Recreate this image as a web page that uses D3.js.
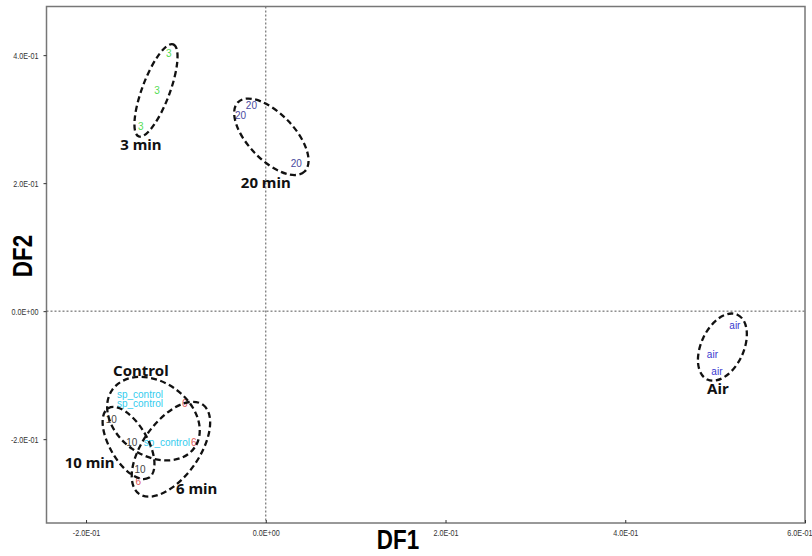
<!DOCTYPE html>
<html>
<head>
<meta charset="utf-8">
<script src="https://cdn.jsdelivr.net/npm/d3@7"></script>
<style>
	body { margin: 0; background: #fff; }
	svg { display: block; }
</style>
</head>
<body>
<script>
// groups of the DF1/DF2 scores, one label text each
const groups = ['3 min', '20 min', 'Air', 'Control', '10 min', '6 min'];
const pointText = ['3', '20', 'air', 'sp_control', '10', '6'];
const pointColor = ['#55dd55', '#4a4a9e', '#3838d0', '#33ccee', '#444444', '#e05555'];

// scores (3 per group)
const df1 = [
	[-0.108, -0.121, -0.139],
	[-0.016, -0.028, 0.034],
	[0.522, 0.497, 0.502],
	[-0.140, -0.140, -0.110],
	[-0.172, -0.149, -0.140],
	[-0.090, -0.080, -0.142]
];
const df2 = [
	[0.403, 0.345, 0.288],
	[0.322, 0.305, 0.231],
	[-0.023, -0.067, -0.095],
	[-0.131, -0.144, -0.205],
	[-0.169, -0.205, -0.248],
	[-0.145, -0.205, -0.266]
];

// where each group name sits (data units)
const nameX = [-0.139, 0.0, 0.503, -0.139, -0.196, -0.077];
const nameY = [0.261, 0.202, -0.120, -0.092, -0.236, -0.277];

const xTicks = [-0.2, 0.0, 0.2, 0.4, 0.6];
const yTicks = [-0.2, 0.0, 0.2, 0.4];

function init()
{
	const width = 812, height = 556;
	const left = 46.5, right = 805, top = 6.5, bottom = 523;
	const narrow = 0.8;

	var svg = d3.select('body').append('svg')
		.attr('width', width)
		.attr('height', height);

	var x = d3.scaleLinear().domain([-0.244, 0.6]).range([left, right]);
	var y = d3.scaleLinear().domain([-0.331, 0.476]).range([bottom, top]);

	function sci(v)
	{
		if (Math.abs(v) < 1e-12) return '0.0E+00';
		const e = Math.floor(Math.log10(Math.abs(v)) + 1e-9);
		const m = v / Math.pow(10, e);
		const es = (e < 0 ? '-' : '+') + String(Math.abs(e)).padStart(2, '0');
		return m.toFixed(1) + 'E' + es;
	}

	// zero lines
	svg.append('line')
		.attr('x1', left).attr('x2', right)
		.attr('y1', y(0)).attr('y2', y(0))
		.attr('stroke', '#555').attr('stroke-dasharray', '2,2');
	svg.append('line')
		.attr('x1', x(0)).attr('x2', x(0))
		.attr('y1', top).attr('y2', bottom)
		.attr('stroke', '#555').attr('stroke-dasharray', '2,2');

	// frame
	svg.append('rect')
		.attr('x', left).attr('y', top)
		.attr('width', right - left).attr('height', bottom - top)
		.attr('fill', 'none').attr('stroke', '#777').attr('stroke-width', 1.5);

	var xAxis = svg.append('g')
		.attr('transform', 'translate(0,' + bottom + ')')
		.call(d3.axisBottom(x).tickValues(xTicks).tickFormat(sci).tickSizeInner(-3).tickSizeOuter(0).tickPadding(7));
	var yAxis = svg.append('g')
		.attr('transform', 'translate(' + left + ',0)')
		.call(d3.axisLeft(y).tickValues(yTicks).tickFormat(sci).tickSize(3).tickSizeOuter(0).tickPadding(6));

	[xAxis, yAxis].forEach(function(a)
	{
		a.select('.domain').remove();
		a.selectAll('line').attr('stroke', '#333');
		a.selectAll('text')
			.attr('font-family', '"Liberation Sans", Arial, sans-serif')
			.attr('font-size', 9)
			.attr('fill', '#333')
			.attr('transform', 'scale(' + narrow + ',1)');
	});
	yAxis.selectAll('text').attr('x', -8 / narrow);
	xAxis.selectAll('text')
		.filter(function(d) { return d === xTicks[xTicks.length - 1]; })
		.attr('text-anchor', 'end')
		.attr('x', 7 / narrow);

	// axis titles (condensed look)
	svg.append('text')
		.attr('transform', 'translate(398,549) scale(' + narrow + ',1)')
		.attr('text-anchor', 'middle')
		.attr('font-family', '"Liberation Sans", Arial, sans-serif')
		.attr('font-weight', 'bold').attr('font-size', 28)
		.text('DF1');
	svg.append('text')
		.attr('transform', 'translate(32,256) rotate(-90) scale(' + narrow + ',1)')
		.attr('text-anchor', 'middle')
		.attr('font-family', '"Liberation Sans", Arial, sans-serif')
		.attr('font-weight', 'bold').attr('font-size', 28)
		.text('DF2');

	// point labels
	var pts = [];
	groups.forEach(function(g, gi)
	{
		df1[gi].forEach(function(v, i) { pts.push({ g: gi, x: v, y: df2[gi][i] }); });
	});

	var labels = svg.append('g').selectAll('text')
		.data(pts)
		.enter()
		.append('text')
			.attr('x', function(d) { return x(d.x); })
			.attr('y', function(d) { return y(d.y); })
			.attr('text-anchor', 'middle')
			.attr('dominant-baseline', 'central')
			.attr('font-family', '"Liberation Sans", Arial, sans-serif')
			.attr('font-size', 10)
			.attr('fill', function(d) { return pointColor[d.g]; })
			.text(function(d) { return pointText[d.g]; });

	// dashed ellipse round each group, from the label boxes
	const padMajor = 6, padMinor = 10;
	var corners = groups.map(function() { return []; });
	labels.each(function(d)
	{
		const b = this.getBBox();
		const ix = 1.5, iy = 2;
		corners[d.g].push([b.x + ix, b.y + iy], [b.x + b.width - ix, b.y + iy],
			[b.x + ix, b.y + b.height - iy], [b.x + b.width - ix, b.y + b.height - iy]);
	});

	var ellipses = corners.map(function(c)
	{
		const mx = d3.mean(c, function(p) { return p[0]; });
		const my = d3.mean(c, function(p) { return p[1]; });
		var sxx = 0, syy = 0, sxy = 0;
		c.forEach(function(p)
		{
			sxx += (p[0] - mx) * (p[0] - mx);
			syy += (p[1] - my) * (p[1] - my);
			sxy += (p[0] - mx) * (p[1] - my);
		});
		const a = 0.5 * Math.atan2(2 * sxy, sxx - syy);
		const ux = Math.cos(a), uy = Math.sin(a);
		const u = c.map(function(p) { return (p[0] - mx) * ux + (p[1] - my) * uy; });
		const v = c.map(function(p) { return -(p[0] - mx) * uy + (p[1] - my) * ux; });
		const u0 = d3.min(u), u1 = d3.max(u), v0 = d3.min(v), v1 = d3.max(v);
		const uc = (u0 + u1) / 2, vc = (v0 + v1) / 2;
		return {
			cx: mx + uc * ux - vc * uy,
			cy: my + uc * uy + vc * ux,
			rx: (u1 - u0) / 2 + padMajor,
			ry: (v1 - v0) / 2 + padMinor,
			angle: a * 180 / Math.PI
		};
	});

	svg.append('g').selectAll('ellipse')
		.data(ellipses)
		.enter()
		.append('ellipse')
			.attr('transform', function(d) { return 'translate(' + d.cx + ',' + d.cy + ') rotate(' + d.angle + ')'; })
			.attr('rx', function(d) { return d.rx; })
			.attr('ry', function(d) { return d.ry; })
			.attr('fill', 'none')
			.attr('stroke', '#111')
			.attr('stroke-width', 2.3)
			.attr('stroke-dasharray', '6,3.5');

	// group names
	svg.append('g').selectAll('text')
		.data(groups)
		.enter()
		.append('text')
			.attr('x', function(d, i) { return x(nameX[i]); })
			.attr('y', function(d, i) { return y(nameY[i]); })
			.attr('text-anchor', 'middle')
			.attr('dominant-baseline', 'central')
			.attr('font-family', '"Noto Sans", "DejaVu Sans", sans-serif')
			.attr('font-weight', 'bold')
			.attr('font-size', 15)
			.attr('fill', '#111')
			.text(function(d) { return d; });
}

init();
</script>
</body>
</html>
